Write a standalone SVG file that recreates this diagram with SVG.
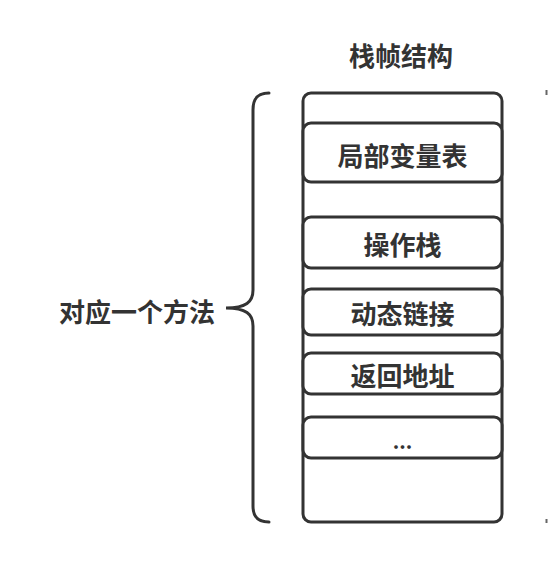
<svg xmlns="http://www.w3.org/2000/svg" width="550" height="565" viewBox="0 0 550 565">
<style>
.box{fill:#fff;stroke:#333;stroke-width:3}
.t{font-family:"Noto Sans CJK SC","Liberation Sans",sans-serif;font-weight:bold;font-size:26px;fill:#333;text-anchor:middle;dominant-baseline:central}
.ln{fill:none;stroke:#333;stroke-width:3;stroke-linecap:round}
</style>
<rect width="550" height="565" fill="#fff"/>
<text class="t" x="401" y="54">栈帧结构</text>
<g id="frame"><rect class="box" x="303" y="93" width="199" height="429" rx="8"/></g>
<g id="locals"><rect class="box" x="303" y="123" width="199" height="59" rx="8"/><text class="t" x="402.5" y="154">局部变量表</text></g>
<g id="opstack"><rect class="box" x="303" y="217" width="199" height="51" rx="8"/><text class="t" x="402.5" y="243">操作栈</text></g>
<g id="dynlink"><rect class="box" x="303" y="289" width="199" height="46" rx="8"/><text class="t" x="402.5" y="312">动态链接</text></g>
<g id="retaddr"><rect class="box" x="303" y="353" width="199" height="41" rx="8"/><text class="t" x="402.5" y="374">返回地址</text></g>
<g id="more"><rect class="box" x="303" y="417" width="199" height="41" rx="8"/><text class="t" x="402.5" y="440" style="font-size:20px">...</text></g>
<g id="connectors">
<path class="ln" d="M269,93 C258,93 253,98 253,110 L253,290 C253,302 246,308 226,308 C246,308 253,314 253,326 L253,506 C253,517 258,522 269,522"/>
<path d="M546.5,90 L546.5,95 M546.5,519 L546.5,523" stroke="#666" stroke-width="2" fill="none"/>
</g>
<g id="label"><text class="t" x="137" y="310">对应一个方法</text></g>
</svg>
